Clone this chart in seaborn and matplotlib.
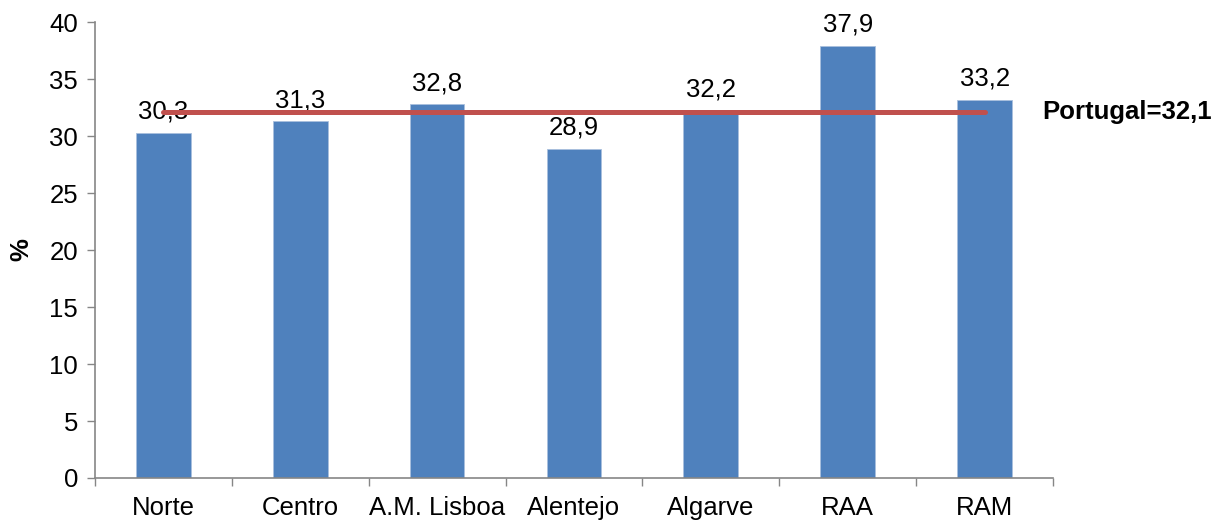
import matplotlib
matplotlib.use("Agg")
import matplotlib.pyplot as plt
import seaborn as sns
import pandas as pd
import numpy as np

regions = ["Norte", "Centro", "A.M. Lisboa", "Alentejo", "Algarve", "RAA", "RAM"]
values = [30.3, 31.3, 32.8, 28.9, 32.2, 37.9, 33.2]
value_labels = ["30,3", "31,3", "32,8", "28,9", "32,2", "37,9", "33,2"]
portugal = 32.1
portugal_label = "Portugal=32,1"
yticks = [0, 5, 10, 15, 20, 25, 30, 35, 40]

sns.set_theme(style="white")
plt.rcParams['font.family'] = ['Liberation Sans', 'DejaVu Sans']

df = pd.DataFrame({"region": regions, "value": values})

FS = 18.5

fig = plt.figure(figsize=(12.16, 5.24), dpi=100)
ax = fig.add_axes([0.078, 0.0878, 0.788, 0.870])

sns.barplot(data=df, x="region", y="value", order=regions, color="#4F81BD",
            width=0.4, saturation=1, ax=ax, edgecolor="#A9C0DE", linewidth=0.6)

for i, (v, lab) in enumerate(zip(values, value_labels)):
    ax.text(i, v + 0.8, lab, ha="center", va="bottom", fontsize=FS, color="black", zorder=2)

ax.plot([0, len(regions) - 1], [portugal, portugal], color="#C0504D", linewidth=3.6,
        solid_capstyle="round", zorder=5)
ax.text(len(regions) - 1 + 0.42, portugal, portugal_label, ha="left", va="center",
        fontsize=FS, fontweight="bold", color="black")

ax.set_xlim(-0.5, len(regions) - 0.5)
ax.set_ylim(0, 40)
ax.set_yticks(yticks)
ax.set_yticklabels([str(t) for t in yticks])
ax.set_xticks(range(len(regions)))
ax.set_xticklabels(regions)
ax.set_xticks(np.arange(-0.5, len(regions), 1.0), minor=True)
ax.tick_params(axis="x", which="major", length=0, labelsize=FS, pad=13, colors="black")
ax.tick_params(axis="x", which="minor", length=6, width=1, color="#868686", bottom=True)
ax.tick_params(axis="y", which="major", length=6, width=1, color="#868686", left=True,
               labelsize=FS, labelcolor="black", pad=6)

ax.set_xlabel("")
ax.set_ylabel("")
fig.text(21 / 1216, 1 - 250 / 524, "%", rotation=90, ha="center", va="center",
         fontsize=FS, fontweight="bold", color="black")

for s in ["top", "right"]:
    ax.spines[s].set_visible(False)
for s in ["left", "bottom"]:
    ax.spines[s].set_color("#868686")
    ax.spines[s].set_linewidth(1.2)

fig.savefig("out.png", dpi=100)
